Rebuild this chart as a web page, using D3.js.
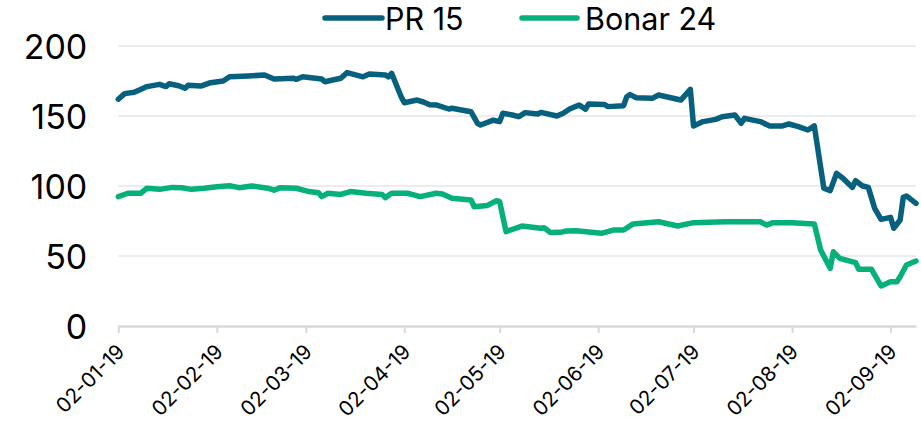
<!DOCTYPE html>
<html>
<head>
<meta charset="utf-8">
<script src="https://cdn.jsdelivr.net/npm/d3@7"></script>
<style>
  html, body { margin: 0; padding: 0; background: #ffffff; }
  svg { display: block; font-family: Inter, "Noto Sans", sans-serif; }
</style>
</head>
<body>
<svg id="chart" width="921" height="423"></svg>
<script>
// ---- Data ----
const seriesNames = ["PR 15", "Bonar 24"];
const seriesColors = ["#07607d", "#05b07a"];

const prDates = ["2019-01-02","2019-01-04","2019-01-07","2019-01-09","2019-01-11","2019-01-15","2019-01-17","2019-01-18","2019-01-21","2019-01-23","2019-01-24","2019-01-28","2019-01-31","2019-02-04","2019-02-06","2019-02-12","2019-02-17","2019-02-20","2019-02-26","2019-02-27","2019-03-01","2019-03-07","2019-03-08","2019-03-13","2019-03-15","2019-03-20","2019-03-22","2019-03-27","2019-03-28","2019-03-29","2019-04-01","2019-04-02","2019-04-06","2019-04-08","2019-04-10","2019-04-12","2019-04-16","2019-04-17","2019-04-23","2019-04-25","2019-04-26","2019-04-30","2019-05-02","2019-05-03","2019-05-06","2019-05-08","2019-05-10","2019-05-14","2019-05-15","2019-05-20","2019-05-22","2019-05-24","2019-05-27","2019-05-29","2019-05-30","2019-06-04","2019-06-05","2019-06-10","2019-06-11","2019-06-12","2019-06-14","2019-06-19","2019-06-21","2019-06-28","2019-07-01","2019-07-02","2019-07-05","2019-07-09","2019-07-11","2019-07-15","2019-07-17","2019-07-18","2019-07-23","2019-07-26","2019-07-30","2019-08-01","2019-08-04","2019-08-07","2019-08-09","2019-08-12","2019-08-14","2019-08-16","2019-08-18","2019-08-21","2019-08-22","2019-08-24","2019-08-26","2019-08-28","2019-08-30","2019-09-02","2019-09-03","2019-09-05","2019-09-06","2019-09-07","2019-09-10"];
const prValues = [162,166,167,169,171,172.6,171,173,171.6,169.8,172,171.4,173.8,175,178,178.6,179.3,176.4,177,176.2,178,176.4,174.5,177,181,178,180,179.3,178,180.5,163.8,159.5,161.4,160,158,157.9,155,155.5,153,144.8,143.6,147,146,152,150.7,149.5,152.4,151.4,152.6,150,152,155,157.9,154.8,158.6,158.3,156.7,157.4,163.8,165.3,163,162.6,165,161.4,169,142.9,146,147.6,149.5,150.7,144.8,148.3,146,142.9,142.9,144.3,142.4,140,142.9,98.4,96.7,109,105.5,99,103.8,100.2,99,84,76.2,77.6,69.8,75.7,92,92.9,87.6];

const bonarDates = ["2019-01-02","2019-01-05","2019-01-09","2019-01-11","2019-01-15","2019-01-19","2019-01-22","2019-01-25","2019-01-29","2019-02-02","2019-02-06","2019-02-09","2019-02-13","2019-02-18","2019-02-20","2019-02-22","2019-02-27","2019-03-03","2019-03-06","2019-03-07","2019-03-09","2019-03-13","2019-03-16","2019-03-21","2019-03-26","2019-03-27","2019-03-29","2019-04-03","2019-04-07","2019-04-12","2019-04-14","2019-04-17","2019-04-23","2019-04-24","2019-04-28","2019-05-01","2019-05-02","2019-05-04","2019-05-09","2019-05-15","2019-05-16","2019-05-18","2019-05-21","2019-05-23","2019-05-26","2019-06-03","2019-06-07","2019-06-10","2019-06-13","2019-06-21","2019-06-27","2019-07-02","2019-07-12","2019-07-23","2019-07-25","2019-07-27","2019-08-02","2019-08-09","2019-08-11","2019-08-14","2019-08-15","2019-08-17","2019-08-22","2019-08-23","2019-08-27","2019-08-30","2019-09-02","2019-09-04","2019-09-05","2019-09-07","2019-09-10"];
const bonarValues = [92.4,94.8,94.8,98.4,97.6,99,98.8,97.6,98.4,99.5,100.2,98.8,100,98.4,97,98.8,98.4,96,95.2,92.4,94.8,94,96,94.8,94,91.7,94.8,94.8,92.4,94.8,94.3,91.2,90,85.2,86,89.5,88.8,67.4,71.4,69.8,70.2,66.7,66.9,67.9,68.1,66.2,68.6,68.6,72.9,74.5,71.4,73.8,74.5,74.5,72.1,73.8,73.8,72.9,54.3,41.2,53,48.3,45.2,40.5,40.5,28.6,31.6,31.6,35.2,43.6,46.4];

const xTickLabels = ["02-01-19","02-02-19","02-03-19","02-04-19","02-05-19","02-06-19","02-07-19","02-08-19","02-09-19"];
const yTicks = [0, 50, 100, 150, 200];
const xDomain = ["2019-01-02", "2019-09-10"];

// ---- Build ----
const parse = d3.timeParse("%Y-%m-%d");
const parseTick = d3.timeParse("%d-%m-%y");
const fmtTick = d3.timeFormat("%d-%m-%y");

const series = [
  { name: seriesNames[0], color: seriesColors[0], points: prDates.map((d, i) => ({ date: parse(d), value: prValues[i] })) },
  { name: seriesNames[1], color: seriesColors[1], points: bonarDates.map((d, i) => ({ date: parse(d), value: bonarValues[i] })) }
];

const svg = d3.select("#chart");
const plotL = 118.3, plotR = 916, plotT = 46, plotB = 326;

const x = d3.scaleTime().domain(xDomain.map(parse)).range([plotL, plotR]);
const y = d3.scaleLinear().domain([0, 200]).range([plotB, plotT]);

// gridlines
svg.append("g")
  .selectAll("line")
  .data(yTicks.filter(v => v > 0))
  .join("line")
  .attr("x1", plotL).attr("x2", plotR)
  .attr("y1", d => y(d)).attr("y2", d => y(d))
  .attr("stroke", "#ececec").attr("stroke-width", 2);

// y axis labels
const yAxis = d3.axisLeft(y).tickValues(yTicks).tickSize(0).tickPadding(0);
const yg = svg.append("g").attr("transform", `translate(${plotL - 31},0)`).call(yAxis);
yg.select(".domain").remove();
yg.selectAll("text")
  .attr("font-family", "Inter, 'Noto Sans', sans-serif")
  .attr("font-size", 34)
  .attr("fill", "#000")
  .attr("dy", "0.36em");

// x axis
const tickDates = xTickLabels.map(parseTick);
const xAxis = d3.axisBottom(x).tickValues(tickDates).tickFormat(fmtTick).tickSize(7).tickSizeOuter(0).tickPadding(0);
const xg = svg.append("g").attr("transform", `translate(0,${plotB})`).call(xAxis);
xg.select(".domain").attr("stroke", "#d9d9d9").attr("stroke-width", 2.5);
xg.selectAll(".tick line").attr("stroke", "#d9d9d9").attr("stroke-width", 2);
xg.selectAll("text")
  .attr("font-family", "Inter, 'Noto Sans', sans-serif")
  .attr("font-size", 20.5)
  .attr("fill", "#000")
  .attr("text-anchor", "end")
  .attr("dy", 0)
  .attr("y", 0)
  .attr("transform", "translate(7,27) rotate(-45)");

// lines
const line = d3.line().x(d => x(d.date)).y(d => y(d.value));
svg.append("g")
  .selectAll("path")
  .data(series)
  .join("path")
  .attr("d", d => line(d.points))
  .attr("fill", "none")
  .attr("stroke", d => d.color)
  .attr("stroke-width", 5.5)
  .attr("stroke-linejoin", "round")
  .attr("stroke-linecap", "round");

// legend
const legendPos = [[325, 382, 385], [522, 577, 585]];
const lg = svg.append("g");
series.forEach((s, i) => {
  const [x1, x2, tx] = legendPos[i];
  lg.append("line").attr("x1", x1).attr("x2", x2).attr("y1", 18).attr("y2", 18)
    .attr("stroke", s.color).attr("stroke-width", 5.5).attr("stroke-linecap", "round");
  lg.append("text").attr("x", tx).attr("y", 30)
    .attr("font-family", "Inter, 'Noto Sans', sans-serif")
    .attr("font-size", 30.5).attr("fill", "#000").text(s.name);
});
</script>
</body>
</html>
